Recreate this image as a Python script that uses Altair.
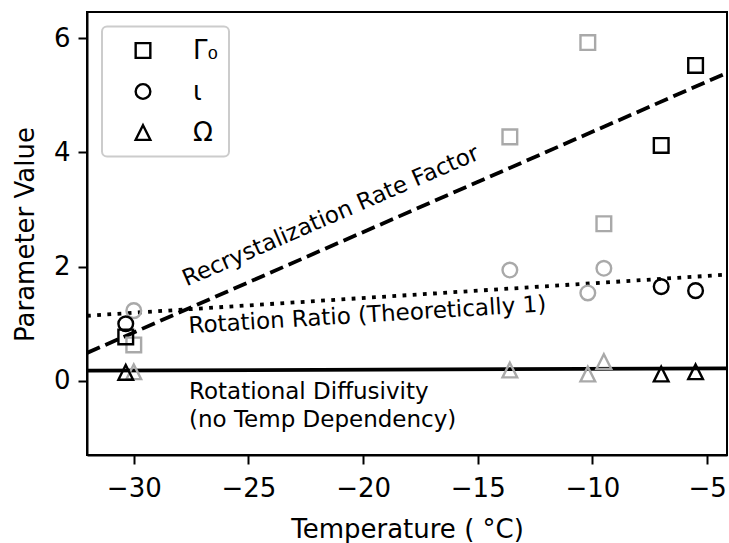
import altair as alt
import pandas as pd

# ---- data ----
gray_T = [-30.0, -13.6, -10.2, -9.5]
gray_gamma = [0.63, 4.27, 5.92, 2.75]
gray_iota = [1.23, 1.94, 1.54, 1.97]
gray_omega = [0.16, 0.19, 0.12, 0.34]

black_T = [-30.35, -7.0, -5.5]
black_gamma = [0.77, 4.12, 5.52]
black_iota = [1.00, 1.65, 1.58]
black_omega = [0.15, 0.12, 0.16]

param_names = ["Γ₀", "ι", "Ω"]

fit_T = [-32.04, -4.13]
fit_rate = [0.49, 5.39]
fit_ratio = [1.14, 1.86]
fit_diff = [0.18, 0.22]

x_ticks = [-30, -25, -20, -15, -10, -5]
y_ticks = [0, 2, 4, 6]
x_domain = [-32.04, -4.13]
y_domain = [-1.296, 6.455]

ann_text = ["Recrystalization Rate Factor",
            "Rotation Ratio (Theoretically 1)",
            "Rotational Diffusivity\n(no Temp Dependency)"]
ann_T = [-27.70, -27.59, -27.59]
ann_v = [1.651, 0.835, -0.32]
ann_angle = [336.5, 356.5, 0]

# ---- tables ----
rows = []
for grp, Ts, series in [("gray", gray_T, [gray_gamma, gray_iota, gray_omega]),
                        ("black", black_T, [black_gamma, black_iota, black_omega])]:
    for name, vals in zip(param_names, series):
        for t, v in zip(Ts, vals):
            rows.append({"T": t, "v": v, "param": name, "group": grp})
pts = pd.DataFrame(rows)

fits = pd.DataFrame({"T": fit_T, "rate": fit_rate, "ratio": fit_ratio, "diff": fit_diff})

xs = alt.Scale(domain=x_domain, nice=False, zero=False)
ys = alt.Scale(domain=y_domain, nice=False, zero=False)

xaxis = alt.Axis(values=x_ticks, format="d", title="Temperature ( °C)", grid=False,
                 tickSize=9, tickWidth=2, tickColor="black", domainColor="black",
                 domainWidth=2, labelFontSize=26, labelColor="black",
                 labelBaseline="alphabetic", labelPadding=32, titleFontSize=26,
                 titleFontWeight="normal", titleColor="black",
                 titleBaseline="alphabetic", titleY=82, titleX=320, titleAlign="center")
yaxis = alt.Axis(values=y_ticks, format="d", title="Parameter Value", grid=False,
                 tickSize=9, tickWidth=2, tickColor="black", domainColor="black",
                 domainWidth=2, labelFontSize=26, labelColor="black",
                 labelPadding=8, titleFontSize=26, titleFontWeight="normal",
                 titleColor="black", titleAngle=270, titleBaseline="alphabetic",
                 titleX=-54, titleY=222, titleAlign="center")

base = alt.Chart(fits)
line_rate = base.mark_line(color="black", strokeWidth=3.8, strokeDash=[14, 6],
                           strokeCap="butt", clip=True).encode(
    x=alt.X("T:Q", scale=xs, axis=xaxis), y=alt.Y("rate:Q", scale=ys, axis=yaxis))
line_ratio = base.mark_line(color="black", strokeWidth=3.8, strokeDash=[3.8, 6.4],
                            strokeCap="butt", clip=True).encode(
    x=alt.X("T:Q", scale=xs), y=alt.Y("ratio:Q", scale=ys))
line_diff = base.mark_line(color="black", strokeWidth=3.8, clip=True).encode(
    x=alt.X("T:Q", scale=xs), y=alt.Y("diff:Q", scale=ys))

shape_range = ["square", "circle", "M0,-1L1,1L-1,1Z"]
points = alt.Chart(pts).mark_point(filled=False, strokeWidth=2.4, size=215,
                                   opacity=1, clip=True).encode(
    x=alt.X("T:Q", scale=xs),
    y=alt.Y("v:Q", scale=ys),
    color=alt.Color("group:N", scale=alt.Scale(domain=["gray", "black"],
                                               range=["#a9a9a9", "#000000"]), legend=None),
    shape=alt.Shape("param:N", scale=alt.Scale(domain=param_names, range=shape_range),
                    legend=alt.Legend(title=None, orient="none", legendX=15, legendY=14.5,
                                      padding=11, symbolOffset=17, labelOffset=37,
                                      rowPadding=15, labelFontSize=26, labelColor="black",
                                      symbolStrokeColor="black", symbolStrokeWidth=2.4,
                                      symbolSize=215, symbolFillColor="transparent",
                                      fillColor="white", strokeColor="#cccccc",
                                      cornerRadius=5)),
)

texts = []
for t, x, y, a in zip(ann_text, ann_T, ann_v, ann_angle):
    df = pd.DataFrame({"T": [x], "v": [y], "label": [t]})
    texts.append(alt.Chart(df).mark_text(align="left", baseline="alphabetic", angle=a,
                                         fontSize=23, color="black", lineBreak="\n",
                                         lineHeight=27.5).encode(
        x=alt.X("T:Q", scale=xs), y=alt.Y("v:Q", scale=ys), text="label:N"))

chart = alt.layer(line_rate, line_ratio, line_diff, points, *texts).properties(
    width=640, height=443,
    padding={"left": 87, "top": 12, "right": 2, "bottom": 88},
    autosize=alt.AutoSizeParams(type="none"),
    background="white",
).configure(font="DejaVu Sans").configure_view(
    stroke="black", strokeWidth=2
).configure_legend(strokeWidth=2)

chart.save("out.html", embed_options={"renderer": "svg", "actions": False})
